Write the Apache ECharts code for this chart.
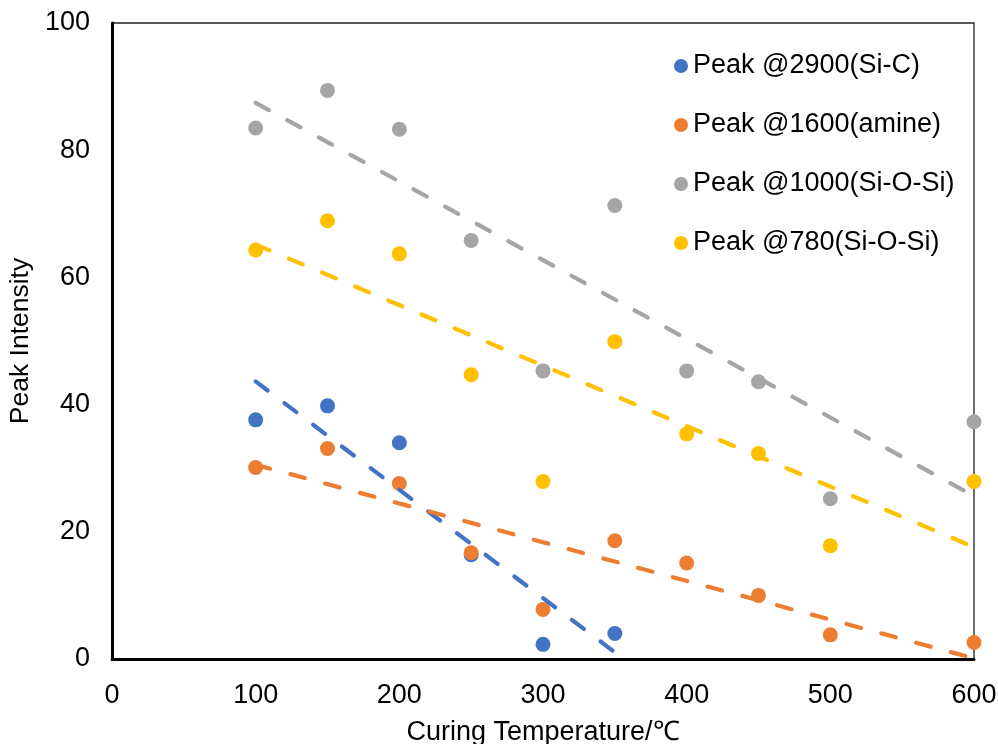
<!DOCTYPE html>
<html>
<head>
<meta charset="utf-8">
<script src="https://cdn.jsdelivr.net/npm/echarts@6/dist/echarts.min.js"></script>
<style>html,body{margin:0;padding:0;background:#fff;}#c{width:998px;height:744px;}</style>
</head>
<body>
<div id="c"></div>
<script>
const temps = [100, 150, 200, 250, 300, 350, 400, 450, 500, 600];
const tempsSiC = [100, 150, 200, 250, 300, 350];
const peakSiC = [37.6, 39.8, 34.0, 16.4, 2.3, 4.0];
const peakAmine = [30.1, 33.1, 27.6, 16.7, 7.8, 18.6, 15.1, 10.0, 3.8, 2.6];
const peakSiOSi1000 = [83.5, 89.4, 83.3, 65.8, 45.3, 71.3, 45.3, 43.6, 25.2, 37.3];
const peakSiOSi780 = [64.3, 68.9, 63.7, 44.7, 27.9, 49.9, 35.4, 32.3, 17.8, 27.9];
const seriesNames = ['Peak @2900(Si-C)', 'Peak @1600(amine)', 'Peak @1000(Si-O-Si)', 'Peak @780(Si-O-Si)'];
const colors = ['#4472C4', '#ED7D31', '#A5A5A5', '#FFC000'];
const xTicks = [0, 100, 200, 300, 400, 500, 600];
const yTicks = [0, 20, 40, 60, 80, 100];

function pairs(xs, ys) { return xs.map((x, i) => [x, ys[i]]); }
function trend(xs, ys) {
  const n = xs.length;
  const mx = xs.reduce((a, b) => a + b, 0) / n;
  const my = ys.reduce((a, b) => a + b, 0) / n;
  let sxy = 0, sxx = 0;
  for (let i = 0; i < n; i++) { sxy += (xs[i] - mx) * (ys[i] - my); sxx += (xs[i] - mx) ** 2; }
  const b = sxy / sxx, a = my - b * mx;
  const x0 = Math.min(...xs), x1 = Math.max(...xs);
  return [[x0, a + b * x0], [x1, a + b * x1]];
}

const sets = [
  [tempsSiC, peakSiC],
  [temps, peakAmine],
  [temps, peakSiOSi1000],
  [temps, peakSiOSi780]
];

const series = [];
sets.forEach((s, i) => {
  series.push({
    name: seriesNames[i], type: 'scatter', data: pairs(s[0], s[1]),
    symbol: 'circle', symbolSize: 15, itemStyle: { color: colors[i], opacity: 1 }, z: 2
  });
});
sets.forEach((s, i) => {
  series.push({
    name: seriesNames[i] + ' trend', type: 'line', data: trend(s[0], s[1]),
    showSymbol: false, symbol: 'none', silent: true, z: 3,
    lineStyle: { color: colors[i], width: 4.2, type: [15, 21], cap: 'round', opacity: 1 }
  });
});

const font = 'Liberation Sans, Arial, sans-serif';
const chart = echarts.init(document.getElementById('c'), null, { renderer: 'canvas' });
chart.setOption({
  animation: false,
  backgroundColor: '#fff',
  grid: { left: 112, right: 24, top: 23, bottom: 85, outerBoundsMode: 'none', containLabel: false,
          show: true, borderColor: '#222', borderWidth: 1.3, backgroundColor: 'transparent' },
  legend: {
    data: seriesNames, orient: 'vertical', left: 669, top: 46,
    itemWidth: 14, itemHeight: 14, itemGap: 29, icon: 'circle',
    textStyle: { fontFamily: font, fontSize: 27, color: '#000', lineHeight: 30 }
  },
  xAxis: {
    type: 'value', min: xTicks[0], max: xTicks[xTicks.length - 1], interval: 100,
    name: 'Curing Temperature/℃', nameLocation: 'middle', nameGap: 60,
    nameTextStyle: { fontFamily: font, fontSize: 27, color: '#000' },
    axisLine: { show: true, onZero: false, lineStyle: { color: '#000', width: 3 } },
    axisTick: { show: false }, splitLine: { show: false },
    axisLabel: { fontFamily: font, fontSize: 27, color: '#000', margin: 23 }
  },
  yAxis: {
    type: 'value', min: yTicks[0], max: yTicks[yTicks.length - 1], interval: 20,
    name: 'Peak Intensity', nameLocation: 'middle', nameGap: 76, nameRotate: 90,
    nameTextStyle: { fontFamily: font, fontSize: 26.5, color: '#000' },
    axisLine: { show: true, onZero: false, lineStyle: { color: '#000', width: 3 } },
    axisTick: { show: false }, splitLine: { show: false },
    axisLabel: { fontFamily: font, fontSize: 27, color: '#000', margin: 22 }
  },
  series: series
});
</script>
</body>
</html>
